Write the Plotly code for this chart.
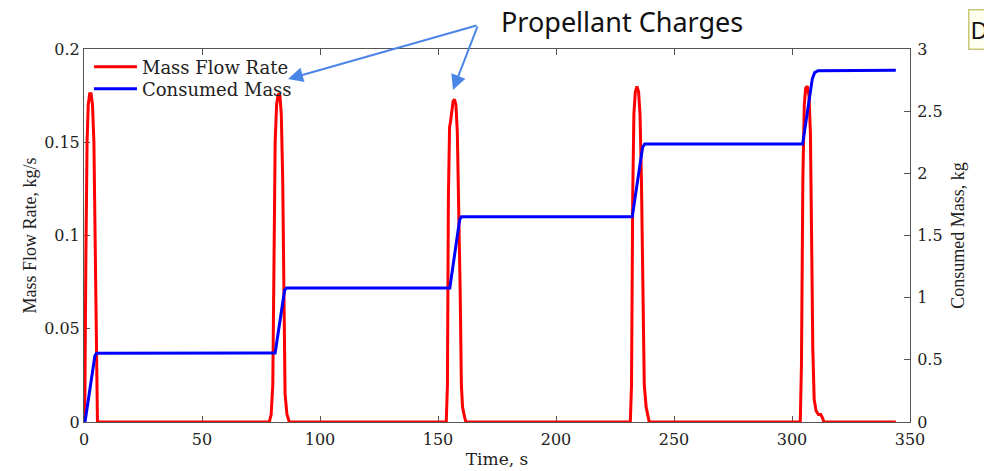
import plotly.graph_objects as go

# Mass flow rate samples (time in s, flow in kg/s), one short burn per propellant charge
flow_time = [
    0.0, 0.3, 0.8, 1.3, 1.8, 2.4, 3.0, 3.6, 4.2, 4.8, 5.3, 5.7,
    78.5, 79.3, 80.0, 80.5, 81.0, 81.6, 82.3, 83.0, 83.6, 84.2, 84.7, 85.2, 86.0, 87.0,
    153.5, 154.0, 154.4, 154.9, 155.3, 155.8, 156.4, 157.0, 157.6, 158.2, 158.8, 159.4, 159.9, 160.4, 161.2, 161.8,
    231.5, 232.0, 232.5, 233.0, 233.6, 234.3, 235.0, 235.6, 236.2, 236.8, 237.4, 238.2, 239.0, 239.5,
    303.5, 304.0, 304.6, 305.2, 305.8, 306.5, 307.2, 307.8, 308.3, 308.8, 309.4, 310.2, 311.2, 312.2, 313.0, 313.5,
    344.0,
]
flow_rate = [
    0.0, 0.0, 0.09, 0.15, 0.17, 0.176, 0.176, 0.17, 0.15, 0.10, 0.04, 0.0,
    0.0, 0.004, 0.02, 0.10, 0.15, 0.17, 0.176, 0.175, 0.165, 0.13, 0.06, 0.015, 0.004, 0.0,
    0.0, 0.02, 0.12, 0.158, 0.161, 0.168, 0.172, 0.173, 0.17, 0.155, 0.12, 0.07, 0.02, 0.008, 0.003, 0.0,
    0.0, 0.02, 0.12, 0.165, 0.177, 0.18, 0.177, 0.165, 0.13, 0.06, 0.02, 0.008, 0.002, 0.0,
    0.0, 0.03, 0.13, 0.17, 0.179, 0.18, 0.175, 0.155, 0.10, 0.04, 0.012, 0.006, 0.004, 0.004, 0.002, 0.0,
    0.0,
]

# Cumulative consumed propellant mass (time in s, mass in kg)
mass_time = [0.0, 0.5, 4.6, 5.3, 81.0, 85.0, 85.8, 155.0, 159.2, 159.9,
             232.3, 236.7, 237.6, 304.5, 308.6, 309.6, 311.0, 344.0]
mass_kg = [0.0, 0.01, 0.53, 0.553, 0.555, 1.06, 1.078, 1.078, 1.63, 1.65,
           1.65, 2.21, 2.235, 2.235, 2.76, 2.81, 2.825, 2.83]

x_ticks = [0, 50, 100, 150, 200, 250, 300, 350]
flow_ticks = [0, 0.05, 0.1, 0.15, 0.2]
mass_ticks = [0, 0.5, 1, 1.5, 2, 2.5, 3]

wide_serif = "DejaVu Serif"
serif = "Liberation Serif"
axis_col = "#555555"
label_col = "#222222"

fig = go.Figure()
fig.add_trace(go.Scatter(
    x=flow_time, y=flow_rate, name="Mass Flow Rate", mode="lines", legend="legend",
    line=dict(color="#ff0000", width=3),
))
fig.add_trace(go.Scatter(
    x=mass_time, y=mass_kg, name="Consumed Mass", mode="lines", yaxis="y2", legend="legend2",
    line=dict(color="#0000ff", width=3),
))

common = dict(showline=True, linecolor=axis_col, linewidth=1, ticks="inside",
              ticklen=6, tickcolor=axis_col, showgrid=False, zeroline=False,
              tickfont=dict(family=wide_serif, size=16, color=label_col),
              layer="below traces", automargin=False)

legend_style = dict(x=0.006, xanchor="left", yanchor="middle", bgcolor="rgba(0,0,0,0)",
                    font=dict(family=wide_serif, size=18, color=label_col), itemwidth=43)

fig.update_layout(
    width=984, height=471,
    margin=dict(l=84, r=74, t=49, b=49),
    paper_bgcolor="white", plot_bgcolor="white",
    showlegend=True,
    legend=dict(y=0.9517, **legend_style),
    legend2=dict(y=0.8928, **legend_style),
    xaxis=dict(range=[0, 350], tickvals=x_ticks, mirror="ticks", ticklabelstandoff=3,
               title=dict(text="Time, s", font=dict(family=wide_serif, size=17, color=label_col),
                          standoff=4),
               **common),
    yaxis=dict(range=[0, 0.2], tickvals=flow_ticks,
               title=dict(text="Mass Flow Rate, kg/s",
                          font=dict(family=serif, size=18, color=label_col), standoff=2),
               **common),
    yaxis2=dict(range=[0, 3], tickvals=mass_ticks, overlaying="y", side="right",
                ticklabelstandoff=3,
                title=dict(text="Consumed Mass, kg",
                           font=dict(family=serif, size=18, color=label_col), standoff=9),
                **common),
)

# Callout pointing at the burns
arrow_col = "#4a86e8"
fig.add_annotation(text="Propellant Charges", xref="paper", yref="paper",
                   x=0.503, y=1.073, xanchor="left", yanchor="middle", showarrow=False,
                   font=dict(family="Noto Sans", size=27, color="#111111"))
fig.add_annotation(text="", xref="paper", yref="paper", x=0.247, y=0.9196,
                   ax=190, ay=-54, showarrow=True, arrowhead=2, arrowsize=1.5,
                   arrowwidth=2, arrowcolor=arrow_col, standoff=0)
fig.add_annotation(text="", xref="paper", yref="paper", x=0.4467, y=0.890,
                   ax=25, ay=-65, showarrow=True, arrowhead=2, arrowsize=1.5,
                   arrowwidth=2, arrowcolor=arrow_col, standoff=0)

# Small tag box at the top-right edge
fig.add_annotation(text="D", xref="paper", yref="paper", x=1.0702, y=1.107,
                   xanchor="left", yanchor="top", showarrow=False, align="left",
                   width=30, height=36, bgcolor="#fffff0", bordercolor="#c8c878",
                   borderwidth=1.5, borderpad=1,
                   font=dict(family="Noto Sans", size=24, color="#111111"))

fig.write_html("out.html")
